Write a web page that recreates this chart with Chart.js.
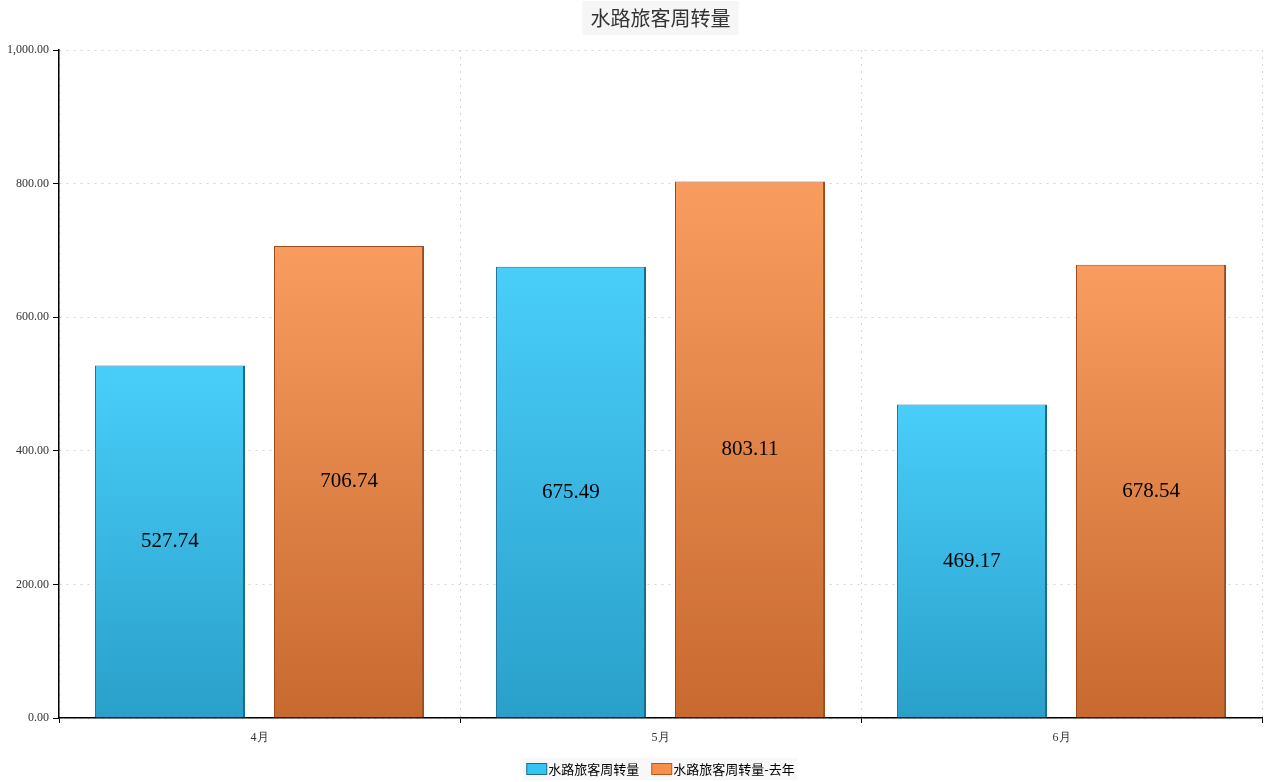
<!DOCTYPE html>
<html>
<head>
<meta charset="utf-8">
<script src="https://cdn.jsdelivr.net/npm/chart.js@4/dist/chart.umd.min.js"></script>
<style>
  html, body { margin: 0; padding: 0; background: #fff; }
  #wrap { width: 1265px; height: 782px; }
</style>
</head>
<body>
<div id="wrap"><canvas id="chart"></canvas></div>
<script>
const title = '水路旅客周转量';
const months = ['4月', '5月', '6月'];
const thisYear = [527.74, 675.49, 469.17];
const lastYear = [706.74, 803.11, 678.54];
const yTicks = [0, 200, 400, 600, 800, 1000];

const swatch = [
    { fill: '#33c6f5', stroke: '#1b6d8e' },
    { fill: '#f78f4c', stroke: '#b4561e' }
];

// each bar gets its own top-to-bottom gradient
function grad(ctx, top, bottom) {
    const chart = ctx.chart;
    if (!chart.chartArea || ctx.raw === undefined) return top;
    const y = chart.scales.y;
    const g = chart.ctx.createLinearGradient(0, y.getPixelForValue(ctx.raw), 0, y.getPixelForValue(0));
    g.addColorStop(0, top);
    g.addColorStop(1, bottom);
    return g;
}

const fmt = v => v.toLocaleString('en-US', { minimumFractionDigits: 2, maximumFractionDigits: 2 });

// title, legend and value labels, centred over the plot area
const extras = {
    id: 'extras',
    afterDraw(chart) {
        const c = chart.ctx;
        const a = chart.chartArea;
        const cx = (a.left + a.right) / 2;
        c.save();

        c.font = '20px "Noto Sans CJK SC"';
        const tw = c.measureText(title).width + 16;
        c.fillStyle = '#f6f6f6';
        c.fillRect(cx - tw / 2, 1, tw, 34);
        c.fillStyle = '#333';
        c.textAlign = 'center';
        c.textBaseline = 'middle';
        c.fillText(title, cx, 18);

        c.font = '13px "Noto Sans CJK SC"';
        const items = chart.data.datasets.map((ds, i) => ({ text: ds.label, w: 22 + c.measureText(ds.label).width, s: swatch[i] }));
        const gap = 12;
        const total = items.reduce((s, it) => s + it.w, 0) + gap * (items.length - 1);
        let x = cx - total / 2;
        const ly = 769;
        c.fillStyle = '#f8f8f8';
        c.fillRect(x - 3, ly - 11, total + 6, 22);
        c.textAlign = 'left';
        items.forEach(it => {
            c.fillStyle = it.s.fill;
            c.strokeStyle = it.s.stroke;
            c.lineWidth = 1;
            c.fillRect(x + 0.5, ly - 5.5, 20, 11);
            c.strokeRect(x + 0.5, ly - 5.5, 20, 11);
            c.fillStyle = '#000';
            c.fillText(it.text, x + 22, ly);
            x += it.w + gap;
        });

        c.font = '21px "Liberation Serif"';
        c.fillStyle = '#000';
        c.textAlign = 'center';
        chart.data.datasets.forEach((ds, i) => {
            chart.getDatasetMeta(i).data.forEach((bar, j) => {
                c.fillText(ds.data[j].toFixed(2), bar.x, (bar.y + bar.base) / 2);
            });
        });
        c.restore();
    }
};

new Chart(document.getElementById('chart'), {
    type: 'bar',
    data: {
        labels: months,
        datasets: [{
            label: '水路旅客周转量',
            data: thisYear,
            backgroundColor: ctx => grad(ctx, '#49cefa', '#29a0ca'),
            borderColor: '#1b6d8e',
            borderWidth: { top: 1, left: 1, right: 2, bottom: 0 },
            borderSkipped: false,
            categoryPercentage: 0.893,
            barPercentage: 0.838
        }, {
            label: '水路旅客周转量-去年',
            data: lastYear,
            backgroundColor: ctx => grad(ctx, '#f89c60', '#c86a2f'),
            borderColor: '#9a4c1c',
            borderWidth: { top: 1, left: 1, right: 2, bottom: 0 },
            borderSkipped: false,
            categoryPercentage: 0.893,
            barPercentage: 0.838
        }]
    },
    options: {
        responsive: true,
        maintainAspectRatio: false,
        animation: false,
        layout: { padding: { top: 50, right: 3, left: 0, bottom: 26 } },
        plugins: {
            title: { display: false },
            legend: { display: false },
            tooltip: { enabled: false }
        },
        scales: {
            x: {
                offset: true,
                grid: {
                    offset: true,
                    color: '#d4d4d4',
                    tickColor: '#000',
                    tickLength: 5,
                    tickBorderDash: []
                },
                border: { color: '#000', width: 1.5, dash: [2, 5] },
                ticks: {
                    color: '#333',
                    font: { family: '"Liberation Serif"', size: 12 },
                    padding: 8
                },
                afterFit: s => { s.height = 38; }
            },
            y: {
                min: 0,
                max: 1000,
                afterBuildTicks: s => { s.ticks = yTicks.map(v => ({ value: v })); },
                grid: {
                    color: '#d4d4d4',
                    tickColor: '#000',
                    tickLength: 6,
                    tickBorderDash: []
                },
                border: { color: '#000', width: 1.5, dash: [2, 5] },
                ticks: {
                    color: '#333',
                    font: { family: '"Liberation Serif"', size: 12 },
                    padding: 4,
                    callback: v => fmt(v)
                },
                afterFit: s => { s.width = 59; }
            }
        }
    },
    plugins: [extras]
});
</script>
</body>
</html>
